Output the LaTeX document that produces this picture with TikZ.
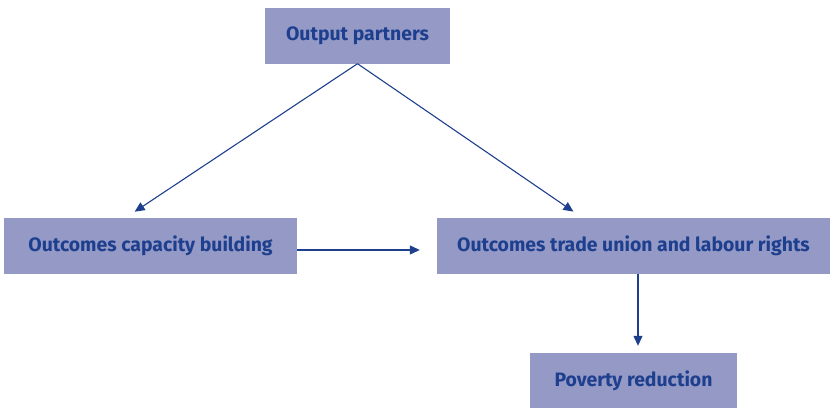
\documentclass[tikz,border=0pt]{standalone}
\usepackage{fontspec}
\setmainfont{Fira Sans}
\usepackage{tikz}
\usetikzlibrary{arrows.meta}

\definecolor{boxfill}{HTML}{9499C6}
\definecolor{inkblue}{HTML}{1E3F8E}

\begin{document}
\begin{tikzpicture}
      [x=1pt,y=1pt,
       box/.style={rectangle,fill=boxfill,inner sep=0pt,
         font=\fontsize{19.4}{23}\selectfont\bfseries,text=inkblue},
       arr/.style={draw=inkblue,line width=1.1pt,
         -{Triangle[length=10pt,width=9pt]}}]
      \useasboundingbox (0,0) rectangle (831,-408);
      % the four boxes
      \node[box,minimum width=185pt,minimum height=56pt] (partners) at (357.5,-35.5) {Output partners};
      \node[box,minimum width=293pt,minimum height=56pt] (capacity) at (150.5,-246) {Outcomes capacity building};
      \node[box,minimum width=393pt,minimum height=56pt] (rights) at (633.5,-246) {Outcomes trade union and labour rights};
      \node[box,minimum width=207pt,minimum height=55pt] (poverty) at (633.5,-380.5) {Poverty reduction};
      % arrows between them
      \draw[arr,shorten >=11pt] (partners.south) -- ([xshift=-25pt]capacity.north);
      \draw[arr,shorten >=11pt] (partners.south) -- ([xshift=-51pt]rights.north);
      \draw[arr,shorten >=17pt] ([yshift=-4pt]capacity.east) -- ([yshift=-4pt]rights.west);
      \draw[arr,shorten >=7pt] ([xshift=4.5pt]rights.south) -- ([xshift=4.5pt]poverty.north);
    \end{tikzpicture}
\end{document}
